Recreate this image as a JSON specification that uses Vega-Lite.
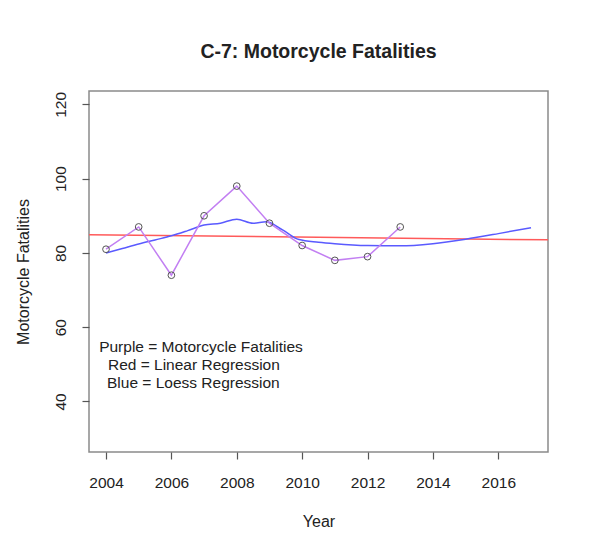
{
  "$schema": "https://vega.github.io/schema/vega-lite/v6.json",
  "autosize": "none",
  "width": 459,
  "height": 361,
  "padding": {"left": 89, "top": 91, "right": 47, "bottom": 97},
  "background": "white",
  "config": {
    "font": "Liberation Sans",
    "view": {"stroke": "#8a8a8a", "strokeWidth": 1.5},
    "axis": {"grid": false, "domain": false, "tickColor": "#555", "tickSize": 7, "tickWidth": 1.2,
             "labelColor": "#222", "titleColor": "#222", "labelFont": "Liberation Sans", "titleFont": "Liberation Sans",
             "labelFontSize": 15.5, "titleFontSize": 16, "titleFontWeight": "normal"}
  },
  "title": {"text": "C-7: Motorcycle Fatalities", "fontSize": 19.5, "fontWeight": "bold", "color": "#222",
            "font": "Liberation Sans", "anchor": "middle", "baseline": "alphabetic", "offset": 14},
  "datasets": {
    "obs": [
      {"year": 2004, "fatalities": 81}, {"year": 2005, "fatalities": 87}, {"year": 2006, "fatalities": 74},
      {"year": 2007, "fatalities": 90}, {"year": 2008, "fatalities": 98}, {"year": 2009, "fatalities": 88},
      {"year": 2010, "fatalities": 82}, {"year": 2011, "fatalities": 78}, {"year": 2012, "fatalities": 79},
      {"year": 2013, "fatalities": 87}
    ],
    "linear": [
      {"year": 2003.48, "fit": 84.89}, {"year": 2017.52, "fit": 83.53}
    ],
    "loess": [
      {"year": 2004, "fit": 80.0}, {"year": 2004.5, "fit": 81.2}, {"year": 2005, "fit": 82.4},
      {"year": 2005.5, "fit": 83.5}, {"year": 2006, "fit": 84.6}, {"year": 2006.5, "fit": 86.0},
      {"year": 2007, "fit": 87.5}, {"year": 2007.5, "fit": 88.0}, {"year": 2008, "fit": 89.1},
      {"year": 2008.5, "fit": 88.0}, {"year": 2008.9, "fit": 88.4}, {"year": 2009.4, "fit": 86.2},
      {"year": 2009.9, "fit": 83.6}, {"year": 2010.5, "fit": 82.9}, {"year": 2011, "fit": 82.5},
      {"year": 2012, "fit": 82.0}, {"year": 2013, "fit": 81.9}, {"year": 2014, "fit": 82.5},
      {"year": 2015, "fit": 83.7}, {"year": 2016, "fit": 85.2}, {"year": 2017, "fit": 86.8}
    ],
    "notes": [
      {"year": 2003.79, "value": 54.67, "label": "Purple = Motorcycle Fatalities"},
      {"year": 2004.06, "value": 49.82, "label": "Red = Linear Regression"},
      {"year": 2004.03, "value": 44.98, "label": "Blue = Loess Regression"}
    ]
  },
  "layer": [
    {
      "data": {"name": "linear"},
      "mark": {"type": "line", "color": "#ff5a5a", "strokeWidth": 1.5, "clip": true},
      "encoding": {
        "x": {"field": "year", "type": "quantitative", "scale": {"domain": [2003.48, 2017.52], "nice": false, "zero": false},
              "axis": {"title": "Year", "values": [2004, 2006, 2008, 2010, 2012, 2014, 2016], "format": "d",
                       "labelPadding": 16, "titlePadding": 23}},
        "y": {"field": "fit", "type": "quantitative", "scale": {"domain": [26.4, 123.6], "nice": false, "zero": false},
              "axis": {"title": "Motorcycle Fatalities", "values": [40, 60, 80, 100, 120], "labelAngle": -90,
                       "labelAlign": "center", "labelBaseline": "bottom", "labelPadding": 14, "titlePadding": 22}}
      }
    },
    {
      "data": {"name": "loess"},
      "mark": {"type": "line", "color": "#5a5aff", "strokeWidth": 1.5, "interpolate": "monotone"},
      "encoding": {
        "x": {"field": "year", "type": "quantitative"},
        "y": {"field": "fit", "type": "quantitative"}
      }
    },
    {
      "data": {"name": "obs"},
      "mark": {"type": "line", "color": "#c27ff2", "strokeWidth": 1.5},
      "encoding": {
        "x": {"field": "year", "type": "quantitative"},
        "y": {"field": "fatalities", "type": "quantitative"}
      }
    },
    {
      "data": {"name": "obs"},
      "mark": {"type": "point", "shape": "circle", "filled": false, "stroke": "#555", "strokeWidth": 1, "size": 45, "opacity": 1},
      "encoding": {
        "x": {"field": "year", "type": "quantitative"},
        "y": {"field": "fatalities", "type": "quantitative"}
      }
    },
    {
      "data": {"name": "notes"},
      "mark": {"type": "text", "align": "left", "baseline": "middle", "fontSize": 15.5, "color": "#222", "font": "Liberation Sans"},
      "encoding": {
        "x": {"field": "year", "type": "quantitative"},
        "y": {"field": "value", "type": "quantitative"},
        "text": {"field": "label"}
      }
    }
  ]
}
